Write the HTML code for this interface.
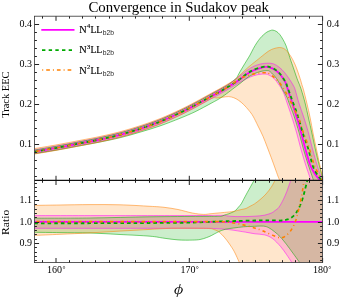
<!DOCTYPE html>
<html><head><meta charset="utf-8"><title>Convergence in Sudakov peak</title>
<style>
html,body{margin:0;padding:0;background:#fff;}
body{width:357px;height:302px;position:relative;overflow:hidden;font-family:"Liberation Serif",serif;}
</style></head><body>
<svg width="357" height="302" viewBox="0 0 357 302" style="position:absolute;left:0;top:0"><defs><clipPath id="cu"><rect x="34.5" y="16.2" width="288.0" height="164.20000000000002"/></clipPath><clipPath id="cl"><rect x="34.5" y="180.4" width="288.0" height="82.20000000000002"/></clipPath></defs><g clip-path="url(#cu)"><path d="M34.50,149.80 C38.25,149.15 49.42,147.32 57.00,145.93 C64.58,144.54 72.83,142.87 80.00,141.46 C87.17,140.06 93.33,138.96 100.00,137.50 C106.67,136.05 113.33,134.55 120.00,132.74 C126.67,130.94 133.33,128.89 140.00,126.68 C146.67,124.48 153.33,122.21 160.00,119.52 C166.67,116.84 174.17,113.33 180.00,110.56 C185.83,107.79 189.70,105.73 195.00,102.92 C200.30,100.10 207.63,95.95 211.80,93.67 C215.97,91.39 217.20,90.82 220.00,89.24 C222.80,87.67 225.27,86.42 228.60,84.22 C231.93,82.01 236.93,78.30 240.00,76.00 C243.07,73.70 244.67,72.03 247.00,70.40 C249.33,68.77 251.67,67.28 254.00,66.20 C256.33,65.12 258.67,64.40 261.00,63.90 C263.33,63.40 265.90,63.20 268.00,63.20 C270.10,63.20 271.72,63.22 273.60,63.90 C275.48,64.58 277.42,65.80 279.30,67.30 C281.18,68.80 283.03,70.65 284.90,72.90 C286.77,75.15 289.05,78.62 290.50,80.80 C291.95,82.98 292.82,84.50 293.60,86.00 C294.38,87.50 294.32,86.97 295.20,89.80 C296.08,92.63 297.43,98.30 298.90,103.00 C300.37,107.70 302.40,113.00 304.00,118.00 C305.60,123.00 307.08,127.83 308.50,133.00 C309.92,138.17 311.08,143.67 312.50,149.00 C313.92,154.33 315.75,160.83 317.00,165.00 C318.25,169.17 319.08,171.50 320.00,174.00 C320.92,176.50 322.00,178.67 322.50,180.00 C323.00,181.33 322.92,181.67 323.00,182.00 L311.50,182.00 C311.38,181.67 311.77,182.83 310.80,180.00 C309.83,177.17 307.35,170.17 305.70,165.00 C304.05,159.83 302.40,154.33 300.90,149.00 C299.40,143.67 298.27,138.50 296.70,133.00 C295.13,127.50 293.10,121.00 291.50,116.00 C289.90,111.00 288.27,106.50 287.10,103.00 C285.93,99.50 285.33,97.20 284.50,95.00 C283.67,92.80 282.97,91.42 282.10,89.80 C281.23,88.18 280.72,87.27 279.30,85.30 C277.88,83.33 275.48,79.78 273.60,78.00 C271.72,76.22 269.17,75.23 268.00,74.60 C266.83,73.97 267.77,74.27 266.60,74.20 C265.43,74.13 263.10,73.97 261.00,74.20 C258.90,74.43 256.33,74.88 254.00,75.60 C251.67,76.32 249.33,77.38 247.00,78.50 C244.67,79.62 243.07,80.55 240.00,82.30 C236.93,84.05 231.93,87.04 228.60,88.98 C225.27,90.93 222.80,92.40 220.00,93.96 C217.20,95.52 215.97,96.08 211.80,98.33 C207.63,100.59 200.30,104.70 195.00,107.48 C189.70,110.27 185.83,112.31 180.00,115.04 C174.17,117.77 166.67,121.23 160.00,123.88 C153.33,126.52 146.67,128.75 140.00,130.92 C133.33,133.08 126.67,135.09 120.00,136.86 C113.33,138.62 106.67,140.08 100.00,141.50 C93.33,142.91 87.17,143.98 80.00,145.34 C72.83,146.70 64.58,148.33 57.00,149.67 C49.42,151.01 38.25,152.78 34.50,153.40 Z" fill="#ff00ff" fill-opacity="0.2" stroke="none"/><path d="M34.50,150.10 C38.25,149.45 49.42,147.61 57.00,146.22 C64.58,144.83 72.83,143.15 80.00,141.74 C87.17,140.33 93.33,139.23 100.00,137.77 C106.67,136.31 113.33,134.81 120.00,133.00 C126.67,131.19 133.33,129.14 140.00,126.93 C146.67,124.72 153.33,122.45 160.00,119.76 C166.67,117.07 174.17,113.56 180.00,110.79 C185.83,108.02 189.70,105.96 195.00,103.14 C200.30,100.32 207.63,96.16 211.80,93.88 C215.97,91.60 217.20,91.03 220.00,89.45 C222.80,87.87 226.35,85.91 228.60,84.42 C230.85,82.93 232.18,81.57 233.50,80.50 C234.82,79.43 235.43,79.45 236.50,78.00 C237.57,76.55 238.77,73.78 239.90,71.80 C241.03,69.82 242.13,68.03 243.30,66.10 C244.47,64.17 245.78,62.03 246.90,60.20 C248.02,58.37 248.92,57.05 250.00,55.10 C251.08,53.15 252.27,50.55 253.40,48.50 C254.53,46.45 255.67,44.52 256.80,42.80 C257.93,41.08 259.08,39.53 260.20,38.20 C261.32,36.87 262.38,35.82 263.50,34.80 C264.62,33.78 265.77,32.80 266.90,32.10 C268.03,31.40 269.33,30.93 270.30,30.60 C271.27,30.27 271.72,29.98 272.70,30.10 C273.68,30.22 275.05,30.60 276.20,31.30 C277.35,32.00 278.47,32.93 279.60,34.30 C280.73,35.67 281.92,37.58 283.00,39.50 C284.08,41.42 285.12,43.30 286.10,45.80 C287.08,48.30 288.12,52.05 288.90,54.50 C289.68,56.95 290.08,58.37 290.80,60.50 C291.52,62.63 292.17,64.30 293.20,67.30 C294.23,70.30 295.97,75.63 297.00,78.50 C298.03,81.37 298.67,82.58 299.40,84.50 C300.13,86.42 300.45,86.92 301.40,90.00 C302.35,93.08 303.92,98.33 305.10,103.00 C306.28,107.67 307.37,113.00 308.50,118.00 C309.63,123.00 310.77,127.83 311.90,133.00 C313.03,138.17 314.08,143.67 315.30,149.00 C316.52,154.33 318.08,160.50 319.20,165.00 C320.32,169.50 321.37,173.17 322.00,176.00 C322.63,178.83 322.83,181.00 323.00,182.00 L314.20,182.00 C314.07,181.67 314.38,182.83 313.40,180.00 C312.42,177.17 309.97,170.17 308.30,165.00 C306.63,159.83 304.92,154.33 303.40,149.00 C301.88,143.67 300.77,138.50 299.20,133.00 C297.63,127.50 295.60,120.75 294.00,116.00 C292.40,111.25 290.77,107.58 289.60,104.50 C288.43,101.42 288.02,99.75 287.00,97.50 C285.98,95.25 284.60,93.03 283.50,91.00 C282.40,88.97 281.57,87.38 280.40,85.30 C279.23,83.22 278.18,80.75 276.50,78.50 C274.82,76.25 271.88,73.12 270.30,71.80 C268.72,70.48 268.55,70.67 267.00,70.60 C265.45,70.53 263.17,70.87 261.00,71.40 C258.83,71.93 256.33,72.72 254.00,73.80 C251.67,74.88 249.33,76.28 247.00,77.90 C244.67,79.52 242.17,81.82 240.00,83.50 C237.83,85.18 235.90,86.55 234.00,88.00 C232.10,89.45 230.93,90.48 228.60,92.20 C226.27,93.92 222.80,96.52 220.00,98.30 C217.20,100.08 215.97,100.65 211.80,102.90 C207.63,105.15 200.30,109.24 195.00,111.80 C189.70,114.36 185.83,115.93 180.00,118.29 C174.17,120.64 166.67,123.61 160.00,125.93 C153.33,128.24 146.67,130.21 140.00,132.18 C133.33,134.15 126.67,136.10 120.00,137.74 C113.33,139.38 106.67,140.67 100.00,142.00 C93.33,143.33 87.17,144.42 80.00,145.75 C72.83,147.08 64.58,148.67 57.00,149.97 C49.42,151.28 38.25,153.00 34.50,153.60 Z" fill="#00aa00" fill-opacity="0.2" stroke="none"/><path d="M34.50,148.60 C38.25,147.97 49.42,146.17 57.00,144.80 C64.58,143.43 72.83,141.78 80.00,140.40 C87.17,139.02 93.33,137.93 100.00,136.50 C106.67,135.07 113.33,133.58 120.00,131.80 C126.67,130.02 133.33,127.98 140.00,125.80 C146.67,123.62 153.33,121.37 160.00,118.70 C166.67,116.03 174.17,112.55 180.00,109.80 C185.83,107.05 189.70,105.00 195.00,102.20 C200.30,99.40 207.63,95.27 211.80,93.00 C215.97,90.73 217.20,90.17 220.00,88.60 C222.80,87.03 226.35,84.90 228.60,83.60 C230.85,82.30 232.18,81.65 233.50,80.80 C234.82,79.95 234.87,80.00 236.50,78.50 C238.13,77.00 241.23,73.77 243.30,71.80 C245.37,69.83 247.03,68.30 248.90,66.70 C250.77,65.10 252.90,63.48 254.50,62.20 C256.10,60.92 257.22,60.03 258.50,59.00 C259.78,57.97 260.80,57.12 262.20,56.00 C263.60,54.88 265.60,53.25 266.90,52.30 C268.20,51.35 268.88,50.90 270.00,50.30 C271.12,49.70 272.05,49.17 273.60,48.70 C275.15,48.23 277.60,47.53 279.30,47.50 C281.00,47.47 282.48,47.85 283.80,48.50 C285.12,49.15 286.08,50.17 287.20,51.40 C288.32,52.63 289.57,54.50 290.50,55.90 C291.43,57.30 291.85,57.90 292.80,59.80 C293.75,61.70 294.98,64.18 296.20,67.30 C297.42,70.42 299.08,75.38 300.10,78.50 C301.12,81.62 301.73,84.12 302.30,86.00 C302.87,87.88 302.75,86.97 303.50,89.80 C304.25,92.63 305.68,98.30 306.80,103.00 C307.92,107.70 309.17,113.00 310.20,118.00 C311.23,123.00 311.97,127.83 313.00,133.00 C314.03,138.17 315.27,143.67 316.40,149.00 C317.53,154.33 318.82,160.50 319.80,165.00 C320.78,169.50 321.73,173.17 322.30,176.00 C322.87,178.83 323.05,181.00 323.20,182.00 L280.30,182.50 C280.17,182.08 279.90,181.08 279.50,180.00 C279.10,178.92 278.65,178.00 277.90,176.00 C277.15,174.00 276.10,171.03 275.00,168.00 C273.90,164.97 272.63,161.38 271.30,157.80 C269.97,154.22 268.38,150.08 267.00,146.50 C265.62,142.92 264.50,139.72 263.00,136.30 C261.50,132.88 259.67,129.37 258.00,126.00 C256.33,122.63 254.53,118.72 253.00,116.10 C251.47,113.48 250.35,112.22 248.80,110.30 C247.25,108.38 245.38,106.25 243.70,104.60 C242.02,102.95 240.37,101.55 238.70,100.40 C237.03,99.25 235.38,98.33 233.70,97.70 C232.02,97.07 230.43,96.68 228.60,96.60 C226.77,96.52 224.63,96.97 222.70,97.20 C220.77,97.43 218.82,97.80 217.00,98.00 C215.18,98.20 215.47,96.80 211.80,98.40 C208.13,100.00 200.30,104.80 195.00,107.60 C189.70,110.40 185.83,112.45 180.00,115.20 C174.17,117.95 166.67,121.43 160.00,124.10 C153.33,126.77 146.67,129.02 140.00,131.20 C133.33,133.38 126.67,135.42 120.00,137.20 C113.33,138.98 106.67,140.47 100.00,141.90 C93.33,143.33 87.17,144.42 80.00,145.80 C72.83,147.18 64.58,148.83 57.00,150.20 C49.42,151.57 38.25,153.37 34.50,154.00 Z" fill="#ff8000" fill-opacity="0.2" stroke="none"/><path d="M34.50,149.80 C38.25,149.15 49.42,147.32 57.00,145.93 C64.58,144.54 72.83,142.87 80.00,141.46 C87.17,140.06 93.33,138.96 100.00,137.50 C106.67,136.05 113.33,134.55 120.00,132.74 C126.67,130.94 133.33,128.89 140.00,126.68 C146.67,124.48 153.33,122.21 160.00,119.52 C166.67,116.84 174.17,113.33 180.00,110.56 C185.83,107.79 189.70,105.73 195.00,102.92 C200.30,100.10 207.63,95.95 211.80,93.67 C215.97,91.39 217.20,90.82 220.00,89.24 C222.80,87.67 225.27,86.42 228.60,84.22 C231.93,82.01 236.93,78.30 240.00,76.00 C243.07,73.70 244.67,72.03 247.00,70.40 C249.33,68.77 251.67,67.28 254.00,66.20 C256.33,65.12 258.67,64.40 261.00,63.90 C263.33,63.40 265.90,63.20 268.00,63.20 C270.10,63.20 271.72,63.22 273.60,63.90 C275.48,64.58 277.42,65.80 279.30,67.30 C281.18,68.80 283.03,70.65 284.90,72.90 C286.77,75.15 289.05,78.62 290.50,80.80 C291.95,82.98 292.82,84.50 293.60,86.00 C294.38,87.50 294.32,86.97 295.20,89.80 C296.08,92.63 297.43,98.30 298.90,103.00 C300.37,107.70 302.40,113.00 304.00,118.00 C305.60,123.00 307.08,127.83 308.50,133.00 C309.92,138.17 311.08,143.67 312.50,149.00 C313.92,154.33 315.75,160.83 317.00,165.00 C318.25,169.17 319.08,171.50 320.00,174.00 C320.92,176.50 322.00,178.67 322.50,180.00 C323.00,181.33 322.92,181.67 323.00,182.00" fill="none" stroke="#ff00ff" stroke-opacity="0.8" stroke-width="0.65"/><path d="M34.50,153.40 C38.25,152.78 49.42,151.01 57.00,149.67 C64.58,148.33 72.83,146.70 80.00,145.34 C87.17,143.98 93.33,142.91 100.00,141.50 C106.67,140.08 113.33,138.62 120.00,136.86 C126.67,135.09 133.33,133.08 140.00,130.92 C146.67,128.75 153.33,126.52 160.00,123.88 C166.67,121.23 174.17,117.77 180.00,115.04 C185.83,112.31 189.70,110.27 195.00,107.48 C200.30,104.70 207.63,100.59 211.80,98.33 C215.97,96.08 217.20,95.52 220.00,93.96 C222.80,92.40 225.27,90.93 228.60,88.98 C231.93,87.04 236.93,84.05 240.00,82.30 C243.07,80.55 244.67,79.62 247.00,78.50 C249.33,77.38 251.67,76.32 254.00,75.60 C256.33,74.88 258.90,74.43 261.00,74.20 C263.10,73.97 265.43,74.13 266.60,74.20 C267.77,74.27 266.83,73.97 268.00,74.60 C269.17,75.23 271.72,76.22 273.60,78.00 C275.48,79.78 277.88,83.33 279.30,85.30 C280.72,87.27 281.23,88.18 282.10,89.80 C282.97,91.42 283.67,92.80 284.50,95.00 C285.33,97.20 285.93,99.50 287.10,103.00 C288.27,106.50 289.90,111.00 291.50,116.00 C293.10,121.00 295.13,127.50 296.70,133.00 C298.27,138.50 299.40,143.67 300.90,149.00 C302.40,154.33 304.05,159.83 305.70,165.00 C307.35,170.17 309.83,177.17 310.80,180.00 C311.77,182.83 311.38,181.67 311.50,182.00" fill="none" stroke="#ff00ff" stroke-opacity="0.8" stroke-width="0.65"/><path d="M34.50,150.10 C38.25,149.45 49.42,147.61 57.00,146.22 C64.58,144.83 72.83,143.15 80.00,141.74 C87.17,140.33 93.33,139.23 100.00,137.77 C106.67,136.31 113.33,134.81 120.00,133.00 C126.67,131.19 133.33,129.14 140.00,126.93 C146.67,124.72 153.33,122.45 160.00,119.76 C166.67,117.07 174.17,113.56 180.00,110.79 C185.83,108.02 189.70,105.96 195.00,103.14 C200.30,100.32 207.63,96.16 211.80,93.88 C215.97,91.60 217.20,91.03 220.00,89.45 C222.80,87.87 226.35,85.91 228.60,84.42 C230.85,82.93 232.18,81.57 233.50,80.50 C234.82,79.43 235.43,79.45 236.50,78.00 C237.57,76.55 238.77,73.78 239.90,71.80 C241.03,69.82 242.13,68.03 243.30,66.10 C244.47,64.17 245.78,62.03 246.90,60.20 C248.02,58.37 248.92,57.05 250.00,55.10 C251.08,53.15 252.27,50.55 253.40,48.50 C254.53,46.45 255.67,44.52 256.80,42.80 C257.93,41.08 259.08,39.53 260.20,38.20 C261.32,36.87 262.38,35.82 263.50,34.80 C264.62,33.78 265.77,32.80 266.90,32.10 C268.03,31.40 269.33,30.93 270.30,30.60 C271.27,30.27 271.72,29.98 272.70,30.10 C273.68,30.22 275.05,30.60 276.20,31.30 C277.35,32.00 278.47,32.93 279.60,34.30 C280.73,35.67 281.92,37.58 283.00,39.50 C284.08,41.42 285.12,43.30 286.10,45.80 C287.08,48.30 288.12,52.05 288.90,54.50 C289.68,56.95 290.08,58.37 290.80,60.50 C291.52,62.63 292.17,64.30 293.20,67.30 C294.23,70.30 295.97,75.63 297.00,78.50 C298.03,81.37 298.67,82.58 299.40,84.50 C300.13,86.42 300.45,86.92 301.40,90.00 C302.35,93.08 303.92,98.33 305.10,103.00 C306.28,107.67 307.37,113.00 308.50,118.00 C309.63,123.00 310.77,127.83 311.90,133.00 C313.03,138.17 314.08,143.67 315.30,149.00 C316.52,154.33 318.08,160.50 319.20,165.00 C320.32,169.50 321.37,173.17 322.00,176.00 C322.63,178.83 322.83,181.00 323.00,182.00" fill="none" stroke="#00aa00" stroke-opacity="0.8" stroke-width="0.65"/><path d="M34.50,153.60 C38.25,153.00 49.42,151.28 57.00,149.97 C64.58,148.67 72.83,147.08 80.00,145.75 C87.17,144.42 93.33,143.33 100.00,142.00 C106.67,140.67 113.33,139.38 120.00,137.74 C126.67,136.10 133.33,134.15 140.00,132.18 C146.67,130.21 153.33,128.24 160.00,125.93 C166.67,123.61 174.17,120.64 180.00,118.29 C185.83,115.93 189.70,114.36 195.00,111.80 C200.30,109.24 207.63,105.15 211.80,102.90 C215.97,100.65 217.20,100.08 220.00,98.30 C222.80,96.52 226.27,93.92 228.60,92.20 C230.93,90.48 232.10,89.45 234.00,88.00 C235.90,86.55 237.83,85.18 240.00,83.50 C242.17,81.82 244.67,79.52 247.00,77.90 C249.33,76.28 251.67,74.88 254.00,73.80 C256.33,72.72 258.83,71.93 261.00,71.40 C263.17,70.87 265.45,70.53 267.00,70.60 C268.55,70.67 268.72,70.48 270.30,71.80 C271.88,73.12 274.82,76.25 276.50,78.50 C278.18,80.75 279.23,83.22 280.40,85.30 C281.57,87.38 282.40,88.97 283.50,91.00 C284.60,93.03 285.98,95.25 287.00,97.50 C288.02,99.75 288.43,101.42 289.60,104.50 C290.77,107.58 292.40,111.25 294.00,116.00 C295.60,120.75 297.63,127.50 299.20,133.00 C300.77,138.50 301.88,143.67 303.40,149.00 C304.92,154.33 306.63,159.83 308.30,165.00 C309.97,170.17 312.42,177.17 313.40,180.00 C314.38,182.83 314.07,181.67 314.20,182.00" fill="none" stroke="#00aa00" stroke-opacity="0.8" stroke-width="0.65"/><path d="M34.50,148.60 C38.25,147.97 49.42,146.17 57.00,144.80 C64.58,143.43 72.83,141.78 80.00,140.40 C87.17,139.02 93.33,137.93 100.00,136.50 C106.67,135.07 113.33,133.58 120.00,131.80 C126.67,130.02 133.33,127.98 140.00,125.80 C146.67,123.62 153.33,121.37 160.00,118.70 C166.67,116.03 174.17,112.55 180.00,109.80 C185.83,107.05 189.70,105.00 195.00,102.20 C200.30,99.40 207.63,95.27 211.80,93.00 C215.97,90.73 217.20,90.17 220.00,88.60 C222.80,87.03 226.35,84.90 228.60,83.60 C230.85,82.30 232.18,81.65 233.50,80.80 C234.82,79.95 234.87,80.00 236.50,78.50 C238.13,77.00 241.23,73.77 243.30,71.80 C245.37,69.83 247.03,68.30 248.90,66.70 C250.77,65.10 252.90,63.48 254.50,62.20 C256.10,60.92 257.22,60.03 258.50,59.00 C259.78,57.97 260.80,57.12 262.20,56.00 C263.60,54.88 265.60,53.25 266.90,52.30 C268.20,51.35 268.88,50.90 270.00,50.30 C271.12,49.70 272.05,49.17 273.60,48.70 C275.15,48.23 277.60,47.53 279.30,47.50 C281.00,47.47 282.48,47.85 283.80,48.50 C285.12,49.15 286.08,50.17 287.20,51.40 C288.32,52.63 289.57,54.50 290.50,55.90 C291.43,57.30 291.85,57.90 292.80,59.80 C293.75,61.70 294.98,64.18 296.20,67.30 C297.42,70.42 299.08,75.38 300.10,78.50 C301.12,81.62 301.73,84.12 302.30,86.00 C302.87,87.88 302.75,86.97 303.50,89.80 C304.25,92.63 305.68,98.30 306.80,103.00 C307.92,107.70 309.17,113.00 310.20,118.00 C311.23,123.00 311.97,127.83 313.00,133.00 C314.03,138.17 315.27,143.67 316.40,149.00 C317.53,154.33 318.82,160.50 319.80,165.00 C320.78,169.50 321.73,173.17 322.30,176.00 C322.87,178.83 323.05,181.00 323.20,182.00" fill="none" stroke="#ff8000" stroke-opacity="0.8" stroke-width="0.65"/><path d="M34.50,154.00 C38.25,153.37 49.42,151.57 57.00,150.20 C64.58,148.83 72.83,147.18 80.00,145.80 C87.17,144.42 93.33,143.33 100.00,141.90 C106.67,140.47 113.33,138.98 120.00,137.20 C126.67,135.42 133.33,133.38 140.00,131.20 C146.67,129.02 153.33,126.77 160.00,124.10 C166.67,121.43 174.17,117.95 180.00,115.20 C185.83,112.45 189.70,110.40 195.00,107.60 C200.30,104.80 208.13,100.00 211.80,98.40 C215.47,96.80 215.18,98.20 217.00,98.00 C218.82,97.80 220.77,97.43 222.70,97.20 C224.63,96.97 226.77,96.52 228.60,96.60 C230.43,96.68 232.02,97.07 233.70,97.70 C235.38,98.33 237.03,99.25 238.70,100.40 C240.37,101.55 242.02,102.95 243.70,104.60 C245.38,106.25 247.25,108.38 248.80,110.30 C250.35,112.22 251.47,113.48 253.00,116.10 C254.53,118.72 256.33,122.63 258.00,126.00 C259.67,129.37 261.50,132.88 263.00,136.30 C264.50,139.72 265.62,142.92 267.00,146.50 C268.38,150.08 269.97,154.22 271.30,157.80 C272.63,161.38 273.90,164.97 275.00,168.00 C276.10,171.03 277.15,174.00 277.90,176.00 C278.65,178.00 279.10,178.92 279.50,180.00 C279.90,181.08 280.17,182.08 280.30,182.50" fill="none" stroke="#ff8000" stroke-opacity="0.8" stroke-width="0.65"/><path d="M34.50,151.60 C38.25,150.97 49.42,149.17 57.00,147.80 C64.58,146.43 72.83,144.78 80.00,143.40 C87.17,142.02 93.33,140.93 100.00,139.50 C106.67,138.07 113.33,136.58 120.00,134.80 C126.67,133.02 133.33,130.98 140.00,128.80 C146.67,126.62 153.33,124.37 160.00,121.70 C166.67,119.03 174.17,115.55 180.00,112.80 C185.83,110.05 189.70,108.00 195.00,105.20 C200.30,102.40 207.63,98.27 211.80,96.00 C215.97,93.73 217.20,93.17 220.00,91.60 C222.80,90.03 225.48,88.50 228.60,86.60 C231.72,84.70 235.63,82.32 238.70,80.20 C241.77,78.08 244.45,75.58 247.00,73.90 C249.55,72.22 251.67,71.12 254.00,70.10 C256.33,69.08 259.00,68.33 261.00,67.80 C263.00,67.27 264.67,67.00 266.00,66.90 C267.33,66.80 267.73,66.85 269.00,67.20 C270.27,67.55 271.88,67.95 273.60,69.00 C275.32,70.05 277.42,71.43 279.30,73.50 C281.18,75.57 283.67,79.32 284.90,81.40 C286.13,83.48 285.93,83.82 286.70,86.00 C287.47,88.18 288.57,91.67 289.50,94.50 C290.43,97.33 291.17,99.42 292.30,103.00 C293.43,106.58 295.42,113.17 296.30,116.00 C297.18,118.83 296.78,117.17 297.60,120.00 C298.42,122.83 299.90,128.17 301.20,133.00 C302.50,137.83 303.90,143.67 305.40,149.00 C306.90,154.33 308.73,161.03 310.20,165.00 C311.67,168.97 313.07,170.85 314.20,172.80 C315.33,174.75 316.07,175.58 317.00,176.70 C317.93,177.82 318.88,178.70 319.80,179.50 C320.72,180.30 322.05,181.17 322.50,181.50" fill="none" stroke="#ff00ff" stroke-width="1.8"/><path d="M34.50,151.60 C38.25,150.97 49.42,149.17 57.00,147.80 C64.58,146.43 72.83,144.78 80.00,143.40 C87.17,142.02 93.33,140.93 100.00,139.50 C106.67,138.07 113.33,136.58 120.00,134.80 C126.67,133.02 133.33,130.98 140.00,128.80 C146.67,126.62 153.33,124.37 160.00,121.70 C166.67,119.03 174.17,115.55 180.00,112.80 C185.83,110.05 189.70,108.00 195.00,105.20 C200.30,102.40 207.63,98.27 211.80,96.00 C215.97,93.73 217.20,93.17 220.00,91.60 C222.80,90.03 225.48,88.53 228.60,86.60 C231.72,84.67 235.63,82.17 238.70,80.00 C241.77,77.83 244.45,75.32 247.00,73.60 C249.55,71.88 251.67,70.73 254.00,69.70 C256.33,68.67 259.00,67.93 261.00,67.40 C263.00,66.87 264.63,66.58 266.00,66.50 C267.37,66.42 267.88,66.52 269.20,66.90 C270.52,67.28 272.17,67.73 273.90,68.80 C275.63,69.87 277.72,71.20 279.60,73.30 C281.48,75.40 283.95,79.28 285.20,81.40 C286.45,83.52 286.28,83.82 287.10,86.00 C287.92,88.18 289.08,91.67 290.10,94.50 C291.12,97.33 291.90,99.42 293.20,103.00 C294.50,106.58 296.30,111.00 297.90,116.00 C299.50,121.00 301.12,127.67 302.80,133.00 C304.48,138.33 306.38,142.67 308.00,148.00 C309.62,153.33 311.17,160.92 312.50,165.00 C313.83,169.08 314.92,170.50 316.00,172.50 C317.08,174.50 318.08,175.75 319.00,177.00 C319.92,178.25 320.92,179.17 321.50,180.00 C322.08,180.83 322.33,181.67 322.50,182.00" fill="none" stroke="#00aa00" stroke-width="1.8" stroke-dasharray="3.6 3.0"/><path d="M34.50,151.60 C38.25,150.97 49.42,149.17 57.00,147.80 C64.58,146.43 72.83,144.78 80.00,143.40 C87.17,142.02 93.33,140.93 100.00,139.50 C106.67,138.07 113.33,136.58 120.00,134.80 C126.67,133.02 133.33,130.98 140.00,128.80 C146.67,126.62 153.33,124.37 160.00,121.70 C166.67,119.03 174.17,115.55 180.00,112.80 C185.83,110.05 189.70,108.00 195.00,105.20 C200.30,102.40 207.63,98.27 211.80,96.00 C215.97,93.73 217.20,93.17 220.00,91.60 C222.80,90.03 225.27,88.77 228.60,86.60 C231.93,84.43 236.93,80.37 240.00,78.60 C243.07,76.83 244.67,76.78 247.00,76.00 C249.33,75.22 251.67,74.42 254.00,73.90 C256.33,73.38 258.90,73.08 261.00,72.90 C263.10,72.72 265.43,72.80 266.60,72.80 C267.77,72.80 266.83,72.23 268.00,72.90 C269.17,73.57 271.72,75.20 273.60,76.80 C275.48,78.40 277.60,80.43 279.30,82.50 C281.00,84.57 282.50,87.15 283.80,89.20 C285.10,91.25 285.72,92.25 287.10,94.80 C288.48,97.35 290.60,101.47 292.10,104.50 C293.60,107.53 295.05,110.92 296.10,113.00 C297.15,115.08 297.17,113.67 298.40,117.00 C299.63,120.33 301.72,127.83 303.50,133.00 C305.28,138.17 307.32,142.67 309.10,148.00 C310.88,153.33 312.80,161.00 314.20,165.00 C315.60,169.00 316.53,170.00 317.50,172.00 C318.47,174.00 319.17,175.50 320.00,177.00 C320.83,178.50 322.08,180.33 322.50,181.00" fill="none" stroke="#ff8000" stroke-width="1.6" stroke-dasharray="0.9 3.15 3.3 3.15" stroke-dashoffset="2"/></g><g clip-path="url(#cl)"><path d="M34.50,215.60 C48.75,215.60 92.42,215.62 120.00,215.60 C147.58,215.58 184.00,215.53 200.00,215.50 C216.00,215.47 211.90,215.42 216.00,215.40 C220.10,215.38 222.43,215.27 224.60,215.40 C226.77,215.53 226.83,216.00 229.00,216.20 C231.17,216.40 234.77,216.53 237.60,216.60 C240.43,216.67 243.10,216.67 246.00,216.60 C248.90,216.53 252.02,216.42 255.00,216.20 C257.98,215.98 261.17,215.83 263.90,215.30 C266.63,214.77 269.55,213.78 271.40,213.00 C273.25,212.22 273.75,211.55 275.00,210.60 C276.25,209.65 277.50,209.17 278.90,207.30 C280.30,205.43 282.08,202.03 283.40,199.40 C284.72,196.77 285.77,194.13 286.80,191.50 C287.83,188.87 288.97,185.45 289.60,183.60 C290.23,181.75 290.28,181.42 290.60,180.40 C290.92,179.38 291.35,177.98 291.50,177.50 L324.5,177.4 L324.5,265.6 L292.80,264.00 C292.60,263.68 292.67,263.72 291.60,262.10 C290.53,260.48 288.25,256.92 286.40,254.30 C284.55,251.68 282.80,249.02 280.50,246.40 C278.20,243.78 275.22,240.52 272.60,238.60 C269.98,236.68 267.73,235.70 264.80,234.90 C261.87,234.10 257.97,234.22 255.00,233.80 C252.03,233.38 249.45,232.82 247.00,232.40 C244.55,231.98 243.33,231.77 240.30,231.30 C237.27,230.83 233.02,230.05 228.80,229.60 C224.58,229.15 219.80,228.82 215.00,228.60 C210.20,228.38 215.83,228.35 200.00,228.30 C184.17,228.25 147.58,228.30 120.00,228.30 C92.42,228.30 48.75,228.30 34.50,228.30 Z" fill="#ff00ff" fill-opacity="0.2" stroke="none"/><path d="M34.50,218.20 C43.75,218.17 70.75,218.23 90.00,218.00 C109.25,217.77 131.67,217.07 150.00,216.80 C168.33,216.53 188.78,216.47 200.00,216.40 C211.22,216.33 213.77,216.42 217.30,216.40 C220.83,216.38 219.98,216.53 221.20,216.30 C222.42,216.07 223.32,215.43 224.60,215.00 C225.88,214.57 227.47,214.22 228.90,213.70 C230.33,213.18 232.05,212.48 233.20,211.90 C234.35,211.32 234.93,210.98 235.80,210.20 C236.67,209.42 237.50,208.25 238.40,207.20 C239.30,206.15 240.33,205.20 241.20,203.90 C242.07,202.60 242.60,201.27 243.60,199.40 C244.60,197.53 246.05,194.80 247.20,192.70 C248.35,190.60 249.42,188.75 250.50,186.80 C251.58,184.85 252.87,182.55 253.70,181.00 C254.53,179.45 255.20,178.08 255.50,177.50 L324.5,177.4 L324.5,265.6 L300.80,264.00 C300.63,263.78 300.85,264.15 299.80,262.70 C298.75,261.25 296.42,257.95 294.50,255.30 C292.58,252.65 289.75,248.77 288.30,246.80 C286.85,244.83 287.15,245.17 285.80,243.50 C284.45,241.83 282.08,238.77 280.20,236.80 C278.32,234.83 276.38,233.20 274.50,231.70 C272.62,230.20 270.77,228.73 268.90,227.80 C267.03,226.87 266.12,226.33 263.30,226.10 C260.48,225.87 255.27,226.28 252.00,226.40 C248.73,226.52 246.77,226.53 243.70,226.80 C240.63,227.07 236.68,227.58 233.60,228.00 C230.52,228.42 227.73,228.67 225.20,229.30 C222.67,229.93 220.65,230.78 218.40,231.80 C216.15,232.82 213.72,234.42 211.70,235.40 C209.68,236.38 208.25,237.02 206.30,237.70 C204.35,238.38 202.35,239.10 200.00,239.50 C197.65,239.90 195.87,240.03 192.20,240.10 C188.53,240.17 182.70,240.22 178.00,239.90 C173.30,239.58 168.67,238.82 164.00,238.20 C159.33,237.58 157.33,236.82 150.00,236.20 C142.67,235.58 130.00,235.03 120.00,234.50 C110.00,233.97 100.00,233.32 90.00,233.00 C80.00,232.68 69.25,232.72 60.00,232.60 C50.75,232.48 38.75,232.35 34.50,232.30 Z" fill="#00aa00" fill-opacity="0.2" stroke="none"/><path d="M34.50,205.40 C38.75,205.33 50.75,205.13 60.00,205.00 C69.25,204.87 80.00,204.63 90.00,204.60 C100.00,204.57 110.00,204.52 120.00,204.80 C130.00,205.08 142.67,205.88 150.00,206.30 C157.33,206.72 159.33,206.77 164.00,207.30 C168.67,207.83 173.30,208.55 178.00,209.50 C182.70,210.45 187.97,212.18 192.20,213.00 C196.43,213.82 200.43,214.27 203.40,214.40 C206.37,214.53 207.90,214.00 210.00,213.80 C212.10,213.60 213.57,213.43 216.00,213.20 C218.43,212.97 221.73,212.68 224.60,212.40 C227.47,212.12 231.03,211.83 233.20,211.50 C235.37,211.17 236.15,210.75 237.60,210.40 C239.05,210.05 240.50,209.72 241.90,209.40 C243.30,209.08 244.65,209.02 246.00,208.50 C247.35,207.98 248.58,207.07 250.00,206.30 C251.42,205.53 252.82,205.02 254.50,203.90 C256.18,202.78 258.18,201.25 260.10,199.60 C262.02,197.95 264.12,196.12 266.00,194.00 C267.88,191.88 269.88,189.20 271.40,186.90 C272.92,184.60 274.30,181.68 275.10,180.20 C275.90,178.72 276.02,178.37 276.20,178.00 L324.5,177.4 L324.5,265.6 L240.00,264.00 C239.82,263.58 239.73,263.33 238.90,261.50 C238.07,259.67 236.17,255.32 235.00,253.00 C233.83,250.68 233.27,249.72 231.90,247.60 C230.53,245.48 228.48,242.48 226.80,240.30 C225.12,238.12 223.35,236.05 221.80,234.50 C220.25,232.95 218.90,231.85 217.50,231.00 C216.10,230.15 214.65,229.80 213.40,229.40 C212.15,229.00 212.23,228.78 210.00,228.60 C207.77,228.42 205.83,228.35 200.00,228.30 C194.17,228.25 181.00,228.25 175.00,228.30 C169.00,228.35 168.17,228.42 164.00,228.60 C159.83,228.78 157.33,228.98 150.00,229.40 C142.67,229.82 130.00,230.52 120.00,231.10 C110.00,231.68 100.00,232.37 90.00,232.90 C80.00,233.43 69.25,233.88 60.00,234.30 C50.75,234.72 38.75,235.22 34.50,235.40 Z" fill="#ff8000" fill-opacity="0.2" stroke="none"/><path d="M34.50,215.60 C48.75,215.60 92.42,215.62 120.00,215.60 C147.58,215.58 184.00,215.53 200.00,215.50 C216.00,215.47 211.90,215.42 216.00,215.40 C220.10,215.38 222.43,215.27 224.60,215.40 C226.77,215.53 226.83,216.00 229.00,216.20 C231.17,216.40 234.77,216.53 237.60,216.60 C240.43,216.67 243.10,216.67 246.00,216.60 C248.90,216.53 252.02,216.42 255.00,216.20 C257.98,215.98 261.17,215.83 263.90,215.30 C266.63,214.77 269.55,213.78 271.40,213.00 C273.25,212.22 273.75,211.55 275.00,210.60 C276.25,209.65 277.50,209.17 278.90,207.30 C280.30,205.43 282.08,202.03 283.40,199.40 C284.72,196.77 285.77,194.13 286.80,191.50 C287.83,188.87 288.97,185.45 289.60,183.60 C290.23,181.75 290.28,181.42 290.60,180.40 C290.92,179.38 291.35,177.98 291.50,177.50" fill="none" stroke="#ff00ff" stroke-opacity="0.8" stroke-width="0.65"/><path d="M34.50,228.30 C48.75,228.30 92.42,228.30 120.00,228.30 C147.58,228.30 184.17,228.25 200.00,228.30 C215.83,228.35 210.20,228.38 215.00,228.60 C219.80,228.82 224.58,229.15 228.80,229.60 C233.02,230.05 237.27,230.83 240.30,231.30 C243.33,231.77 244.55,231.98 247.00,232.40 C249.45,232.82 252.03,233.38 255.00,233.80 C257.97,234.22 261.87,234.10 264.80,234.90 C267.73,235.70 269.98,236.68 272.60,238.60 C275.22,240.52 278.20,243.78 280.50,246.40 C282.80,249.02 284.55,251.68 286.40,254.30 C288.25,256.92 290.53,260.48 291.60,262.10 C292.67,263.72 292.60,263.68 292.80,264.00" fill="none" stroke="#ff00ff" stroke-opacity="0.8" stroke-width="0.65"/><path d="M34.50,218.20 C43.75,218.17 70.75,218.23 90.00,218.00 C109.25,217.77 131.67,217.07 150.00,216.80 C168.33,216.53 188.78,216.47 200.00,216.40 C211.22,216.33 213.77,216.42 217.30,216.40 C220.83,216.38 219.98,216.53 221.20,216.30 C222.42,216.07 223.32,215.43 224.60,215.00 C225.88,214.57 227.47,214.22 228.90,213.70 C230.33,213.18 232.05,212.48 233.20,211.90 C234.35,211.32 234.93,210.98 235.80,210.20 C236.67,209.42 237.50,208.25 238.40,207.20 C239.30,206.15 240.33,205.20 241.20,203.90 C242.07,202.60 242.60,201.27 243.60,199.40 C244.60,197.53 246.05,194.80 247.20,192.70 C248.35,190.60 249.42,188.75 250.50,186.80 C251.58,184.85 252.87,182.55 253.70,181.00 C254.53,179.45 255.20,178.08 255.50,177.50" fill="none" stroke="#00aa00" stroke-opacity="0.8" stroke-width="0.65"/><path d="M34.50,232.30 C38.75,232.35 50.75,232.48 60.00,232.60 C69.25,232.72 80.00,232.68 90.00,233.00 C100.00,233.32 110.00,233.97 120.00,234.50 C130.00,235.03 142.67,235.58 150.00,236.20 C157.33,236.82 159.33,237.58 164.00,238.20 C168.67,238.82 173.30,239.58 178.00,239.90 C182.70,240.22 188.53,240.17 192.20,240.10 C195.87,240.03 197.65,239.90 200.00,239.50 C202.35,239.10 204.35,238.38 206.30,237.70 C208.25,237.02 209.68,236.38 211.70,235.40 C213.72,234.42 216.15,232.82 218.40,231.80 C220.65,230.78 222.67,229.93 225.20,229.30 C227.73,228.67 230.52,228.42 233.60,228.00 C236.68,227.58 240.63,227.07 243.70,226.80 C246.77,226.53 248.73,226.52 252.00,226.40 C255.27,226.28 260.48,225.87 263.30,226.10 C266.12,226.33 267.03,226.87 268.90,227.80 C270.77,228.73 272.62,230.20 274.50,231.70 C276.38,233.20 278.32,234.83 280.20,236.80 C282.08,238.77 284.45,241.83 285.80,243.50 C287.15,245.17 286.85,244.83 288.30,246.80 C289.75,248.77 292.58,252.65 294.50,255.30 C296.42,257.95 298.75,261.25 299.80,262.70 C300.85,264.15 300.63,263.78 300.80,264.00" fill="none" stroke="#00aa00" stroke-opacity="0.8" stroke-width="0.65"/><path d="M34.50,205.40 C38.75,205.33 50.75,205.13 60.00,205.00 C69.25,204.87 80.00,204.63 90.00,204.60 C100.00,204.57 110.00,204.52 120.00,204.80 C130.00,205.08 142.67,205.88 150.00,206.30 C157.33,206.72 159.33,206.77 164.00,207.30 C168.67,207.83 173.30,208.55 178.00,209.50 C182.70,210.45 187.97,212.18 192.20,213.00 C196.43,213.82 200.43,214.27 203.40,214.40 C206.37,214.53 207.90,214.00 210.00,213.80 C212.10,213.60 213.57,213.43 216.00,213.20 C218.43,212.97 221.73,212.68 224.60,212.40 C227.47,212.12 231.03,211.83 233.20,211.50 C235.37,211.17 236.15,210.75 237.60,210.40 C239.05,210.05 240.50,209.72 241.90,209.40 C243.30,209.08 244.65,209.02 246.00,208.50 C247.35,207.98 248.58,207.07 250.00,206.30 C251.42,205.53 252.82,205.02 254.50,203.90 C256.18,202.78 258.18,201.25 260.10,199.60 C262.02,197.95 264.12,196.12 266.00,194.00 C267.88,191.88 269.88,189.20 271.40,186.90 C272.92,184.60 274.30,181.68 275.10,180.20 C275.90,178.72 276.02,178.37 276.20,178.00" fill="none" stroke="#ff8000" stroke-opacity="0.8" stroke-width="0.65"/><path d="M34.50,235.40 C38.75,235.22 50.75,234.72 60.00,234.30 C69.25,233.88 80.00,233.43 90.00,232.90 C100.00,232.37 110.00,231.68 120.00,231.10 C130.00,230.52 142.67,229.82 150.00,229.40 C157.33,228.98 159.83,228.78 164.00,228.60 C168.17,228.42 169.00,228.35 175.00,228.30 C181.00,228.25 194.17,228.25 200.00,228.30 C205.83,228.35 207.77,228.42 210.00,228.60 C212.23,228.78 212.15,229.00 213.40,229.40 C214.65,229.80 216.10,230.15 217.50,231.00 C218.90,231.85 220.25,232.95 221.80,234.50 C223.35,236.05 225.12,238.12 226.80,240.30 C228.48,242.48 230.53,245.48 231.90,247.60 C233.27,249.72 233.83,250.68 235.00,253.00 C236.17,255.32 238.07,259.67 238.90,261.50 C239.73,263.33 239.82,263.58 240.00,264.00" fill="none" stroke="#ff8000" stroke-opacity="0.8" stroke-width="0.65"/><path d="M34.50,221.80 C82.50,221.80 274.50,221.80 322.50,221.80" fill="none" stroke="#ff00ff" stroke-width="1.8"/><path d="M34.50,223.30 C45.42,223.28 80.75,223.25 100.00,223.20 C119.25,223.15 135.83,223.08 150.00,223.00 C164.17,222.92 175.83,222.85 185.00,222.70 C194.17,222.55 199.50,222.30 205.00,222.10 C210.50,221.90 213.00,221.68 218.00,221.50 C223.00,221.32 228.83,221.17 235.00,221.00 C241.17,220.83 249.17,220.60 255.00,220.50 C260.83,220.40 265.53,220.40 270.00,220.40 C274.47,220.40 279.13,220.60 281.80,220.50 C284.47,220.40 284.57,220.18 286.00,219.80 C287.43,219.42 288.92,219.08 290.40,218.20 C291.88,217.32 293.53,216.10 294.90,214.50 C296.27,212.90 297.48,210.72 298.60,208.60 C299.72,206.48 300.73,204.17 301.60,201.80 C302.47,199.43 303.18,196.63 303.80,194.40 C304.42,192.17 304.80,190.38 305.30,188.40 C305.80,186.42 306.42,184.15 306.80,182.50 C307.18,180.85 307.47,179.17 307.60,178.50" fill="none" stroke="#00aa00" stroke-width="1.8" stroke-dasharray="3.6 3.0"/><path d="M34.50,221.60 C62.08,221.60 169.58,221.60 200.00,221.60 C230.42,221.60 212.20,221.48 217.00,221.60 C221.80,221.72 224.43,221.75 228.80,222.30 C233.17,222.85 238.77,223.90 243.20,224.90 C247.63,225.90 252.43,227.45 255.40,228.30 C258.37,229.15 259.32,229.37 261.00,230.00 C262.68,230.63 263.90,231.37 265.50,232.10 C267.10,232.83 268.90,233.67 270.60,234.40 C272.30,235.13 274.38,235.98 275.70,236.50 C277.02,237.02 277.62,237.28 278.50,237.50 C279.38,237.72 280.08,237.90 281.00,237.80 C281.92,237.70 283.10,237.30 284.00,236.90 C284.90,236.50 285.40,236.27 286.40,235.40 C287.40,234.53 288.90,233.13 290.00,231.70 C291.10,230.27 292.10,228.50 293.00,226.80 C293.90,225.10 294.72,223.30 295.40,221.50 C296.08,219.70 296.43,218.53 297.10,216.00 C297.77,213.47 298.65,209.65 299.40,206.30 C300.15,202.95 300.98,199.13 301.60,195.90 C302.22,192.67 302.72,189.38 303.10,186.90 C303.48,184.42 303.70,182.48 303.90,181.00 C304.10,179.52 304.23,178.50 304.30,178.00" fill="none" stroke="#ff8000" stroke-width="1.6" stroke-dasharray="0.9 3.15 3.3 3.15" stroke-dashoffset="2"/></g><line x1="42.50" y1="16.20" x2="42.50" y2="18.60" stroke="#222" stroke-width="1.0"/><line x1="42.50" y1="178.00" x2="42.50" y2="182.80" stroke="#222" stroke-width="1.0"/><line x1="42.50" y1="262.60" x2="42.50" y2="260.20" stroke="#222" stroke-width="1.0"/><line x1="56.00" y1="16.20" x2="56.00" y2="20.80" stroke="#222" stroke-width="1.0"/><line x1="56.00" y1="175.80" x2="56.00" y2="185.00" stroke="#222" stroke-width="1.0"/><line x1="56.00" y1="262.60" x2="56.00" y2="258.00" stroke="#222" stroke-width="1.0"/><line x1="69.50" y1="16.20" x2="69.50" y2="18.60" stroke="#222" stroke-width="1.0"/><line x1="69.50" y1="178.00" x2="69.50" y2="182.80" stroke="#222" stroke-width="1.0"/><line x1="69.50" y1="262.60" x2="69.50" y2="260.20" stroke="#222" stroke-width="1.0"/><line x1="82.50" y1="16.20" x2="82.50" y2="18.60" stroke="#222" stroke-width="1.0"/><line x1="82.50" y1="178.00" x2="82.50" y2="182.80" stroke="#222" stroke-width="1.0"/><line x1="82.50" y1="262.60" x2="82.50" y2="260.20" stroke="#222" stroke-width="1.0"/><line x1="95.50" y1="16.20" x2="95.50" y2="18.60" stroke="#222" stroke-width="1.0"/><line x1="95.50" y1="178.00" x2="95.50" y2="182.80" stroke="#222" stroke-width="1.0"/><line x1="95.50" y1="262.60" x2="95.50" y2="260.20" stroke="#222" stroke-width="1.0"/><line x1="109.50" y1="16.20" x2="109.50" y2="18.60" stroke="#222" stroke-width="1.0"/><line x1="109.50" y1="178.00" x2="109.50" y2="182.80" stroke="#222" stroke-width="1.0"/><line x1="109.50" y1="262.60" x2="109.50" y2="260.20" stroke="#222" stroke-width="1.0"/><line x1="122.50" y1="16.20" x2="122.50" y2="18.60" stroke="#222" stroke-width="1.0"/><line x1="122.50" y1="178.00" x2="122.50" y2="182.80" stroke="#222" stroke-width="1.0"/><line x1="122.50" y1="262.60" x2="122.50" y2="260.20" stroke="#222" stroke-width="1.0"/><line x1="135.50" y1="16.20" x2="135.50" y2="18.60" stroke="#222" stroke-width="1.0"/><line x1="135.50" y1="178.00" x2="135.50" y2="182.80" stroke="#222" stroke-width="1.0"/><line x1="135.50" y1="262.60" x2="135.50" y2="260.20" stroke="#222" stroke-width="1.0"/><line x1="149.50" y1="16.20" x2="149.50" y2="18.60" stroke="#222" stroke-width="1.0"/><line x1="149.50" y1="178.00" x2="149.50" y2="182.80" stroke="#222" stroke-width="1.0"/><line x1="149.50" y1="262.60" x2="149.50" y2="260.20" stroke="#222" stroke-width="1.0"/><line x1="162.50" y1="16.20" x2="162.50" y2="18.60" stroke="#222" stroke-width="1.0"/><line x1="162.50" y1="178.00" x2="162.50" y2="182.80" stroke="#222" stroke-width="1.0"/><line x1="162.50" y1="262.60" x2="162.50" y2="260.20" stroke="#222" stroke-width="1.0"/><line x1="175.50" y1="16.20" x2="175.50" y2="18.60" stroke="#222" stroke-width="1.0"/><line x1="175.50" y1="178.00" x2="175.50" y2="182.80" stroke="#222" stroke-width="1.0"/><line x1="175.50" y1="262.60" x2="175.50" y2="260.20" stroke="#222" stroke-width="1.0"/><line x1="189.30" y1="16.20" x2="189.30" y2="20.80" stroke="#222" stroke-width="1.0"/><line x1="189.30" y1="175.80" x2="189.30" y2="185.00" stroke="#222" stroke-width="1.0"/><line x1="189.30" y1="262.60" x2="189.30" y2="258.00" stroke="#222" stroke-width="1.0"/><line x1="202.50" y1="16.20" x2="202.50" y2="18.60" stroke="#222" stroke-width="1.0"/><line x1="202.50" y1="178.00" x2="202.50" y2="182.80" stroke="#222" stroke-width="1.0"/><line x1="202.50" y1="262.60" x2="202.50" y2="260.20" stroke="#222" stroke-width="1.0"/><line x1="215.50" y1="16.20" x2="215.50" y2="18.60" stroke="#222" stroke-width="1.0"/><line x1="215.50" y1="178.00" x2="215.50" y2="182.80" stroke="#222" stroke-width="1.0"/><line x1="215.50" y1="262.60" x2="215.50" y2="260.20" stroke="#222" stroke-width="1.0"/><line x1="229.50" y1="16.20" x2="229.50" y2="18.60" stroke="#222" stroke-width="1.0"/><line x1="229.50" y1="178.00" x2="229.50" y2="182.80" stroke="#222" stroke-width="1.0"/><line x1="229.50" y1="262.60" x2="229.50" y2="260.20" stroke="#222" stroke-width="1.0"/><line x1="242.50" y1="16.20" x2="242.50" y2="18.60" stroke="#222" stroke-width="1.0"/><line x1="242.50" y1="178.00" x2="242.50" y2="182.80" stroke="#222" stroke-width="1.0"/><line x1="242.50" y1="262.60" x2="242.50" y2="260.20" stroke="#222" stroke-width="1.0"/><line x1="255.50" y1="16.20" x2="255.50" y2="18.60" stroke="#222" stroke-width="1.0"/><line x1="255.50" y1="178.00" x2="255.50" y2="182.80" stroke="#222" stroke-width="1.0"/><line x1="255.50" y1="262.60" x2="255.50" y2="260.20" stroke="#222" stroke-width="1.0"/><line x1="269.50" y1="16.20" x2="269.50" y2="18.60" stroke="#222" stroke-width="1.0"/><line x1="269.50" y1="178.00" x2="269.50" y2="182.80" stroke="#222" stroke-width="1.0"/><line x1="269.50" y1="262.60" x2="269.50" y2="260.20" stroke="#222" stroke-width="1.0"/><line x1="282.50" y1="16.20" x2="282.50" y2="18.60" stroke="#222" stroke-width="1.0"/><line x1="282.50" y1="178.00" x2="282.50" y2="182.80" stroke="#222" stroke-width="1.0"/><line x1="282.50" y1="262.60" x2="282.50" y2="260.20" stroke="#222" stroke-width="1.0"/><line x1="295.50" y1="16.20" x2="295.50" y2="18.60" stroke="#222" stroke-width="1.0"/><line x1="295.50" y1="178.00" x2="295.50" y2="182.80" stroke="#222" stroke-width="1.0"/><line x1="295.50" y1="262.60" x2="295.50" y2="260.20" stroke="#222" stroke-width="1.0"/><line x1="309.50" y1="16.20" x2="309.50" y2="18.60" stroke="#222" stroke-width="1.0"/><line x1="309.50" y1="178.00" x2="309.50" y2="182.80" stroke="#222" stroke-width="1.0"/><line x1="309.50" y1="262.60" x2="309.50" y2="260.20" stroke="#222" stroke-width="1.0"/><line x1="322.60" y1="16.20" x2="322.60" y2="20.80" stroke="#222" stroke-width="1.0"/><line x1="322.60" y1="175.80" x2="322.60" y2="185.00" stroke="#222" stroke-width="1.0"/><line x1="322.60" y1="262.60" x2="322.60" y2="258.00" stroke="#222" stroke-width="1.0"/><line x1="34.50" y1="176.50" x2="36.90" y2="176.50" stroke="#222" stroke-width="1.0"/><line x1="322.50" y1="176.50" x2="320.10" y2="176.50" stroke="#222" stroke-width="1.0"/><line x1="34.50" y1="168.50" x2="36.90" y2="168.50" stroke="#222" stroke-width="1.0"/><line x1="322.50" y1="168.50" x2="320.10" y2="168.50" stroke="#222" stroke-width="1.0"/><line x1="34.50" y1="160.50" x2="36.90" y2="160.50" stroke="#222" stroke-width="1.0"/><line x1="322.50" y1="160.50" x2="320.10" y2="160.50" stroke="#222" stroke-width="1.0"/><line x1="34.50" y1="152.50" x2="36.90" y2="152.50" stroke="#222" stroke-width="1.0"/><line x1="322.50" y1="152.50" x2="320.10" y2="152.50" stroke="#222" stroke-width="1.0"/><line x1="34.50" y1="144.50" x2="39.10" y2="144.50" stroke="#222" stroke-width="1.0"/><line x1="322.50" y1="144.50" x2="317.90" y2="144.50" stroke="#222" stroke-width="1.0"/><line x1="34.50" y1="136.50" x2="36.90" y2="136.50" stroke="#222" stroke-width="1.0"/><line x1="322.50" y1="136.50" x2="320.10" y2="136.50" stroke="#222" stroke-width="1.0"/><line x1="34.50" y1="128.50" x2="36.90" y2="128.50" stroke="#222" stroke-width="1.0"/><line x1="322.50" y1="128.50" x2="320.10" y2="128.50" stroke="#222" stroke-width="1.0"/><line x1="34.50" y1="120.50" x2="36.90" y2="120.50" stroke="#222" stroke-width="1.0"/><line x1="322.50" y1="120.50" x2="320.10" y2="120.50" stroke="#222" stroke-width="1.0"/><line x1="34.50" y1="112.50" x2="36.90" y2="112.50" stroke="#222" stroke-width="1.0"/><line x1="322.50" y1="112.50" x2="320.10" y2="112.50" stroke="#222" stroke-width="1.0"/><line x1="34.50" y1="104.50" x2="39.10" y2="104.50" stroke="#222" stroke-width="1.0"/><line x1="322.50" y1="104.50" x2="317.90" y2="104.50" stroke="#222" stroke-width="1.0"/><line x1="34.50" y1="96.50" x2="36.90" y2="96.50" stroke="#222" stroke-width="1.0"/><line x1="322.50" y1="96.50" x2="320.10" y2="96.50" stroke="#222" stroke-width="1.0"/><line x1="34.50" y1="88.50" x2="36.90" y2="88.50" stroke="#222" stroke-width="1.0"/><line x1="322.50" y1="88.50" x2="320.10" y2="88.50" stroke="#222" stroke-width="1.0"/><line x1="34.50" y1="80.50" x2="36.90" y2="80.50" stroke="#222" stroke-width="1.0"/><line x1="322.50" y1="80.50" x2="320.10" y2="80.50" stroke="#222" stroke-width="1.0"/><line x1="34.50" y1="72.50" x2="36.90" y2="72.50" stroke="#222" stroke-width="1.0"/><line x1="322.50" y1="72.50" x2="320.10" y2="72.50" stroke="#222" stroke-width="1.0"/><line x1="34.50" y1="64.50" x2="39.10" y2="64.50" stroke="#222" stroke-width="1.0"/><line x1="322.50" y1="64.50" x2="317.90" y2="64.50" stroke="#222" stroke-width="1.0"/><line x1="34.50" y1="56.50" x2="36.90" y2="56.50" stroke="#222" stroke-width="1.0"/><line x1="322.50" y1="56.50" x2="320.10" y2="56.50" stroke="#222" stroke-width="1.0"/><line x1="34.50" y1="48.50" x2="36.90" y2="48.50" stroke="#222" stroke-width="1.0"/><line x1="322.50" y1="48.50" x2="320.10" y2="48.50" stroke="#222" stroke-width="1.0"/><line x1="34.50" y1="40.50" x2="36.90" y2="40.50" stroke="#222" stroke-width="1.0"/><line x1="322.50" y1="40.50" x2="320.10" y2="40.50" stroke="#222" stroke-width="1.0"/><line x1="34.50" y1="32.50" x2="36.90" y2="32.50" stroke="#222" stroke-width="1.0"/><line x1="322.50" y1="32.50" x2="320.10" y2="32.50" stroke="#222" stroke-width="1.0"/><line x1="34.50" y1="24.50" x2="39.10" y2="24.50" stroke="#222" stroke-width="1.0"/><line x1="322.50" y1="24.50" x2="317.90" y2="24.50" stroke="#222" stroke-width="1.0"/><line x1="34.50" y1="260.50" x2="36.90" y2="260.50" stroke="#222" stroke-width="1.0"/><line x1="322.50" y1="260.50" x2="320.10" y2="260.50" stroke="#222" stroke-width="1.0"/><line x1="34.50" y1="256.50" x2="36.90" y2="256.50" stroke="#222" stroke-width="1.0"/><line x1="322.50" y1="256.50" x2="320.10" y2="256.50" stroke="#222" stroke-width="1.0"/><line x1="34.50" y1="252.50" x2="36.90" y2="252.50" stroke="#222" stroke-width="1.0"/><line x1="322.50" y1="252.50" x2="320.10" y2="252.50" stroke="#222" stroke-width="1.0"/><line x1="34.50" y1="247.50" x2="36.90" y2="247.50" stroke="#222" stroke-width="1.0"/><line x1="322.50" y1="247.50" x2="320.10" y2="247.50" stroke="#222" stroke-width="1.0"/><line x1="34.50" y1="243.50" x2="39.10" y2="243.50" stroke="#222" stroke-width="1.0"/><line x1="322.50" y1="243.50" x2="317.90" y2="243.50" stroke="#222" stroke-width="1.0"/><line x1="34.50" y1="239.50" x2="36.90" y2="239.50" stroke="#222" stroke-width="1.0"/><line x1="322.50" y1="239.50" x2="320.10" y2="239.50" stroke="#222" stroke-width="1.0"/><line x1="34.50" y1="234.50" x2="36.90" y2="234.50" stroke="#222" stroke-width="1.0"/><line x1="322.50" y1="234.50" x2="320.10" y2="234.50" stroke="#222" stroke-width="1.0"/><line x1="34.50" y1="230.50" x2="36.90" y2="230.50" stroke="#222" stroke-width="1.0"/><line x1="322.50" y1="230.50" x2="320.10" y2="230.50" stroke="#222" stroke-width="1.0"/><line x1="34.50" y1="226.50" x2="36.90" y2="226.50" stroke="#222" stroke-width="1.0"/><line x1="322.50" y1="226.50" x2="320.10" y2="226.50" stroke="#222" stroke-width="1.0"/><line x1="34.50" y1="222.50" x2="39.10" y2="222.50" stroke="#222" stroke-width="1.0"/><line x1="322.50" y1="222.50" x2="317.90" y2="222.50" stroke="#222" stroke-width="1.0"/><line x1="34.50" y1="217.50" x2="36.90" y2="217.50" stroke="#222" stroke-width="1.0"/><line x1="322.50" y1="217.50" x2="320.10" y2="217.50" stroke="#222" stroke-width="1.0"/><line x1="34.50" y1="213.50" x2="36.90" y2="213.50" stroke="#222" stroke-width="1.0"/><line x1="322.50" y1="213.50" x2="320.10" y2="213.50" stroke="#222" stroke-width="1.0"/><line x1="34.50" y1="209.50" x2="36.90" y2="209.50" stroke="#222" stroke-width="1.0"/><line x1="322.50" y1="209.50" x2="320.10" y2="209.50" stroke="#222" stroke-width="1.0"/><line x1="34.50" y1="204.50" x2="36.90" y2="204.50" stroke="#222" stroke-width="1.0"/><line x1="322.50" y1="204.50" x2="320.10" y2="204.50" stroke="#222" stroke-width="1.0"/><line x1="34.50" y1="200.50" x2="39.10" y2="200.50" stroke="#222" stroke-width="1.0"/><line x1="322.50" y1="200.50" x2="317.90" y2="200.50" stroke="#222" stroke-width="1.0"/><line x1="34.50" y1="196.50" x2="36.90" y2="196.50" stroke="#222" stroke-width="1.0"/><line x1="322.50" y1="196.50" x2="320.10" y2="196.50" stroke="#222" stroke-width="1.0"/><line x1="34.50" y1="191.50" x2="36.90" y2="191.50" stroke="#222" stroke-width="1.0"/><line x1="322.50" y1="191.50" x2="320.10" y2="191.50" stroke="#222" stroke-width="1.0"/><line x1="34.50" y1="187.50" x2="36.90" y2="187.50" stroke="#222" stroke-width="1.0"/><line x1="322.50" y1="187.50" x2="320.10" y2="187.50" stroke="#222" stroke-width="1.0"/><line x1="34.50" y1="183.50" x2="36.90" y2="183.50" stroke="#222" stroke-width="1.0"/><line x1="322.50" y1="183.50" x2="320.10" y2="183.50" stroke="#222" stroke-width="1.0"/><rect x="34.5" y="16.2" width="288.0" height="246.40000000000003" fill="none" stroke="#333" stroke-width="0.8"/><line x1="34.5" y1="180.4" x2="322.5" y2="180.4" stroke="#111" stroke-width="1.3"/><line x1="41.3" y1="29.8" x2="74.5" y2="29.8" stroke="#ff00ff" stroke-width="1.7"/><line x1="42" y1="50" x2="72" y2="50" stroke="#00aa00" stroke-width="1.75" stroke-dasharray="3.4 3.27"/><line x1="42.2" y1="70.1" x2="72" y2="70.1" stroke="#ff8000" stroke-width="1.5" stroke-dasharray="1 3 3.7 3"/></svg>
<svg width="357" height="302" viewBox="0 0 357 302" style="position:absolute;left:0;top:0;opacity:0.999;will-change:transform;font-family:'Liberation Serif',serif" fill="#000"><text x="178.7" y="12" font-size="15" text-anchor="middle" textLength="180.6" lengthAdjust="spacingAndGlyphs">Convergence in Sudakov peak</text><text x="31.9" y="26.6" font-size="10" text-anchor="end" >0.4</text><text x="326.8" y="26.6" font-size="10" text-anchor="start" >0.4</text><text x="31.9" y="66.62" font-size="10" text-anchor="end" >0.3</text><text x="326.8" y="66.62" font-size="10" text-anchor="start" >0.3</text><text x="31.9" y="106.64" font-size="10" text-anchor="end" >0.2</text><text x="326.8" y="106.64" font-size="10" text-anchor="start" >0.2</text><text x="31.9" y="146.66" font-size="10" text-anchor="end" >0.1</text><text x="326.8" y="146.66" font-size="10" text-anchor="start" >0.1</text><text x="31.9" y="203.3" font-size="10" text-anchor="end" >1.1</text><text x="326.8" y="203.3" font-size="10" text-anchor="start" >1.1</text><text x="31.9" y="224.5" font-size="10" text-anchor="end" >1.0</text><text x="326.8" y="224.5" font-size="10" text-anchor="start" >1.0</text><text x="31.9" y="245.9" font-size="10" text-anchor="end" >0.9</text><text x="326.8" y="245.9" font-size="10" text-anchor="start" >0.9</text><text x="47.1" y="272.8" font-size="10" text-anchor="start" >160<tspan font-size="7.5" dy="-1.1" dx="0.3">°</tspan></text><text x="180.5" y="272.8" font-size="10" text-anchor="start" >170<tspan font-size="7.5" dy="-1.1" dx="0.3">°</tspan></text><text x="313.0" y="272.8" font-size="10" text-anchor="start" >180<tspan font-size="7.5" dy="-1.1" dx="0.3">°</tspan></text><text x="0" y="0" font-size="11" text-anchor="middle" transform="translate(8.5,94.6) rotate(-90)" textLength="46.4" lengthAdjust="spacingAndGlyphs">Track EEC</text><text x="0" y="0" font-size="10.8" text-anchor="middle" transform="translate(8.5,222.3) rotate(-90)" textLength="25.2" lengthAdjust="spacingAndGlyphs">Ratio</text><g transform="translate(178.6,290.6) skewX(-14)"><path fill-rule="evenodd" d="M-4.1,0 a4.1,3.7 0 1,0 8.2,0 a4.1,3.7 0 1,0 -8.2,0 Z M-2.8,0 a2.8,3.15 0 1,0 5.6,0 a2.8,3.15 0 1,0 -5.6,0 Z"/><line x1="0" y1="-6.6" x2="0" y2="6.4" stroke="#111" stroke-width="0.85"/></g><text x="79.3" y="32.95" font-size="10.3" text-anchor="start" stroke="#000" stroke-width="0.15">N</text><text x="87.0" y="28.250000000000004" font-size="6.4" text-anchor="start" stroke="#000" stroke-width="0.15">4</text><text x="90.4" y="32.95" font-size="10.3" text-anchor="start" textLength="11.9" lengthAdjust="spacingAndGlyphs" stroke="#000" stroke-width="0.15">LL</text><text x="102.7" y="34.95" font-size="7.8" text-anchor="start" font-family="Liberation Sans, sans-serif" textLength="11.2" lengthAdjust="spacingAndGlyphs" fill="#222">b2b</text><text x="79.3" y="53.3" font-size="10.3" text-anchor="start" stroke="#000" stroke-width="0.15">N</text><text x="87.0" y="48.599999999999994" font-size="6.4" text-anchor="start" stroke="#000" stroke-width="0.15">3</text><text x="90.4" y="53.3" font-size="10.3" text-anchor="start" textLength="11.9" lengthAdjust="spacingAndGlyphs" stroke="#000" stroke-width="0.15">LL</text><text x="102.7" y="55.3" font-size="7.8" text-anchor="start" font-family="Liberation Sans, sans-serif" textLength="11.2" lengthAdjust="spacingAndGlyphs" fill="#222">b2b</text><text x="79.3" y="73.5" font-size="10.3" text-anchor="start" stroke="#000" stroke-width="0.15">N</text><text x="87.0" y="68.8" font-size="6.4" text-anchor="start" stroke="#000" stroke-width="0.15">2</text><text x="90.4" y="73.5" font-size="10.3" text-anchor="start" textLength="11.9" lengthAdjust="spacingAndGlyphs" stroke="#000" stroke-width="0.15">LL</text><text x="102.7" y="75.5" font-size="7.8" text-anchor="start" font-family="Liberation Sans, sans-serif" textLength="11.2" lengthAdjust="spacingAndGlyphs" fill="#222">b2b</text></svg>
</body></html>
